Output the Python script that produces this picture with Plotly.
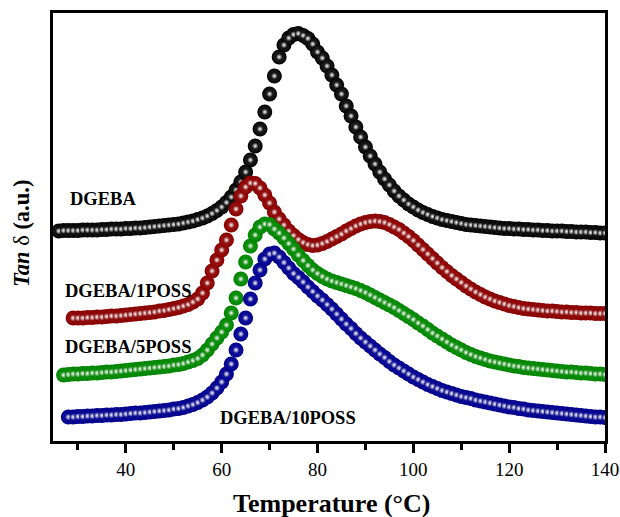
import plotly.graph_objects as go

# Loss factor (tan delta, arbitrary units, curves stacked with vertical offsets)
# sampled every 1 degC; each series starts at its own first temperature.
start_dgeba = 26
tan_dgeba = [
    210, 210.5, 210.5, 210.5, 210.5, 211, 211, 211, 211, 211.5,
    211.5, 212, 212, 212, 212.5, 212.5, 213, 213, 213.5, 214,
    214.5, 215, 215.5, 216, 216.5, 217, 218, 219, 220, 221.5,
    223, 225, 227.5, 230.5, 234, 238.5, 244, 251, 259, 269,
    281, 295, 312, 329, 347, 365, 384, 396, 403, 406.5,
    407.5, 405.5, 402.5, 397, 389, 383, 375, 366, 356, 347,
    335, 325, 314, 304, 294, 285, 277, 269, 262, 256,
    250, 245, 241, 237, 234, 231, 228.5, 226.5, 224.5, 223,
    221.5, 220.5, 219.5, 218.5, 217.5, 216.5, 216, 215.5, 215, 214.5,
    214, 213.5, 213, 212.5, 212.5, 212, 212, 211.5, 211.5, 211,
    211, 210.5, 210.5, 210, 210, 210, 209.5, 209.5, 209, 209,
    209, 208.5, 208.5, 208, 208,
]

start_1poss = 29
tan_1poss = [
    123, 123, 123, 123.5, 123.5, 124, 124, 124.5, 125, 125,
    125.5, 126, 126.5, 127, 127.5, 128, 128.5, 129, 130, 130.5,
    131.5, 132.5, 133.5, 135, 136.5, 139, 142, 148, 158, 170,
    181, 191, 201, 216, 232, 245, 254, 258, 257.5, 253,
    246, 238, 229, 222, 216, 210, 205.5, 201.5, 198.5, 196.5,
    195.5, 196, 197.5, 199.5, 202, 204.5, 207, 210, 212.5, 215,
    217, 218.5, 219.5, 220, 219.5, 218.5, 216.5, 214, 211.5, 208,
    204.5, 200.5, 196, 191.5, 187, 182.5, 178, 173.5, 169.5, 165.5,
    162, 158.5, 155, 152, 149, 146.5, 144, 142, 140, 138.5,
    137, 135.5, 134.5, 133.5, 132.5, 132, 131.5, 131, 130.5, 130,
    130, 129.5, 129, 129, 128.5, 128.5, 128, 128, 128, 127.5,
    127.5, 127.5,
]

start_5poss = 27
tan_5poss = [
    66, 66.5, 67, 67, 67.5, 67.5, 68, 68, 68.5, 69,
    69, 69.5, 70, 70.5, 71, 71.5, 72, 72.5, 73, 73.5,
    74, 74.5, 75, 76, 76.5, 77.5, 79, 80.5, 82.5, 86,
    91, 97, 103, 109, 116, 128, 143, 162, 179, 195,
    206, 214, 217, 216.5, 212, 208, 203, 197.5, 192, 186,
    180.5, 175.5, 171, 167.5, 164.5, 162, 160, 158.5, 157, 155.5,
    154, 152.5, 150.5, 148.5, 146, 143.5, 141, 138.5, 136, 133.5,
    130.5, 127.5, 124.5, 121.5, 118, 115, 111.5, 108, 105, 102,
    99, 96, 93.5, 91, 88.5, 86.5, 84.5, 83, 81.5, 80,
    79, 78, 77, 76, 75, 74.5, 73.5, 73, 72.5, 72,
    71.5, 71, 70.5, 70, 69.5, 69, 69, 68.5, 68, 68,
    67.5, 67, 67, 66.5,
]

start_10poss = 28
tan_10poss = [
    24, 24, 24.5, 24.5, 25, 25, 25.5, 25.5, 26, 26,
    26.5, 26.5, 27, 27.5, 28, 28, 28.5, 29, 29.5, 30,
    30.5, 31, 32, 32.5, 33.5, 35, 36.5, 38.5, 41, 44,
    48, 53, 59, 67, 77, 91, 107, 123, 142, 158,
    171, 182, 187, 188, 184, 178.5, 173, 167.5, 163.5, 159,
    154, 149.5, 145, 141, 136.5, 132, 127, 122, 117, 112.5,
    107.5, 103, 99, 95, 91, 87, 83.5, 79.5, 76, 73,
    70, 67, 64, 61.5, 59, 56.5, 54.5, 52.5, 50.5, 49,
    47.5, 46, 44.5, 43.5, 42.5, 41, 40, 39, 38, 37,
    36, 35, 34, 33.5, 32.5, 32, 31, 30.5, 30, 29.5,
    29, 28.5, 28, 27.5, 27, 26.5, 26, 25.5, 25, 24.5,
    24, 24, 23.5,
]

# name, first temperature, values, body colour, lighter body centre
series = [
    ("DGEBA", start_dgeba, tan_dgeba, "#000000", "#3a3a3a"),
    ("DGEBA/1POSS", start_1poss, tan_1poss, "#850000", "#b02020"),
    ("DGEBA/5POSS", start_5poss, tan_5poss, "#008200", "#20a820"),
    ("DGEBA/10POSS", start_10poss, tan_10poss, "#000088", "#2020b8"),
]

# Curve labels: (text, temperature, tan delta level)
curve_labels = [
    ("DGEBA", 28.0, 242),
    ("DGEBA/1POSS", 26.9, 150),
    ("DGEBA/5POSS", 26.9, 94),
    ("DGEBA/10POSS", 59.3, 23),
]

serif = "Liberation Serif, Times New Roman, serif"

fig = go.Figure()
for name, t0, vals, color, centre in series:
    temps = list(range(t0, t0 + len(vals)))
    # sphere body
    fig.add_trace(go.Scatter(
        x=temps, y=vals, mode="markers", name=name,
        marker=dict(size=15, color=color,
                    gradient=dict(type="radial", color=centre),
                    line=dict(width=0)),
        hoverinfo="skip",
    ))
    # specular highlight on each sphere
    fig.add_trace(go.Scatter(
        x=temps, y=vals, mode="markers", name=name, showlegend=False,
        marker=dict(size=7, color=color,
                    gradient=dict(type="radial", color="#ffffff"),
                    line=dict(width=0)),
        hoverinfo="skip",
    ))

for text, tx, ty in curve_labels:
    fig.add_annotation(
        x=tx, y=ty, xref="x", yref="y", text=f"<b>{text}</b>",
        showarrow=False, xanchor="left", yanchor="middle",
        font=dict(family=serif, size=18.5, color="#000000"),
    )

fig.add_annotation(
    x=0.505, y=-0.145, xref="paper", yref="paper",
    text="<b>Temperature (°C)</b>", showarrow=False,
    xanchor="center", yanchor="middle",
    font=dict(family=serif, size=26, color="#000000"),
)
fig.add_annotation(
    x=-0.056, y=0.484, xref="paper", yref="paper",
    text="<b><i>Tan</i></b> δ <b>(a.u.)</b>", showarrow=False,
    textangle=-90, xanchor="center", yanchor="middle",
    font=dict(family=serif, size=22.5, color="#000000"),
)

fig.update_layout(
    width=620, height=517,
    margin=dict(l=53, r=15, t=13, b=76, autoexpand=False),
    paper_bgcolor="#ffffff", plot_bgcolor="#ffffff",
    showlegend=False,
    xaxis=dict(
        range=[24.8, 140], tick0=40, dtick=20, automargin=False,
        ticks="outside", ticklen=9, tickwidth=2.5, tickcolor="#000000",
        minor=dict(dtick=10, tick0=30, ticks="outside", ticklen=6,
                   tickwidth=2.5, tickcolor="#000000"),
        showline=True, linewidth=2.5, linecolor="#000000", mirror=True,
        showgrid=False, zeroline=False,
        tickfont=dict(family=serif, size=19, color="#000000"),
    ),
    yaxis=dict(
        range=[0, 428], showticklabels=False, ticks="", automargin=False,
        showline=True, linewidth=2.5, linecolor="#000000", mirror=True,
        showgrid=False, zeroline=False,
    ),
)

fig.write_html("out.html", config={"displayModeBar": False})
